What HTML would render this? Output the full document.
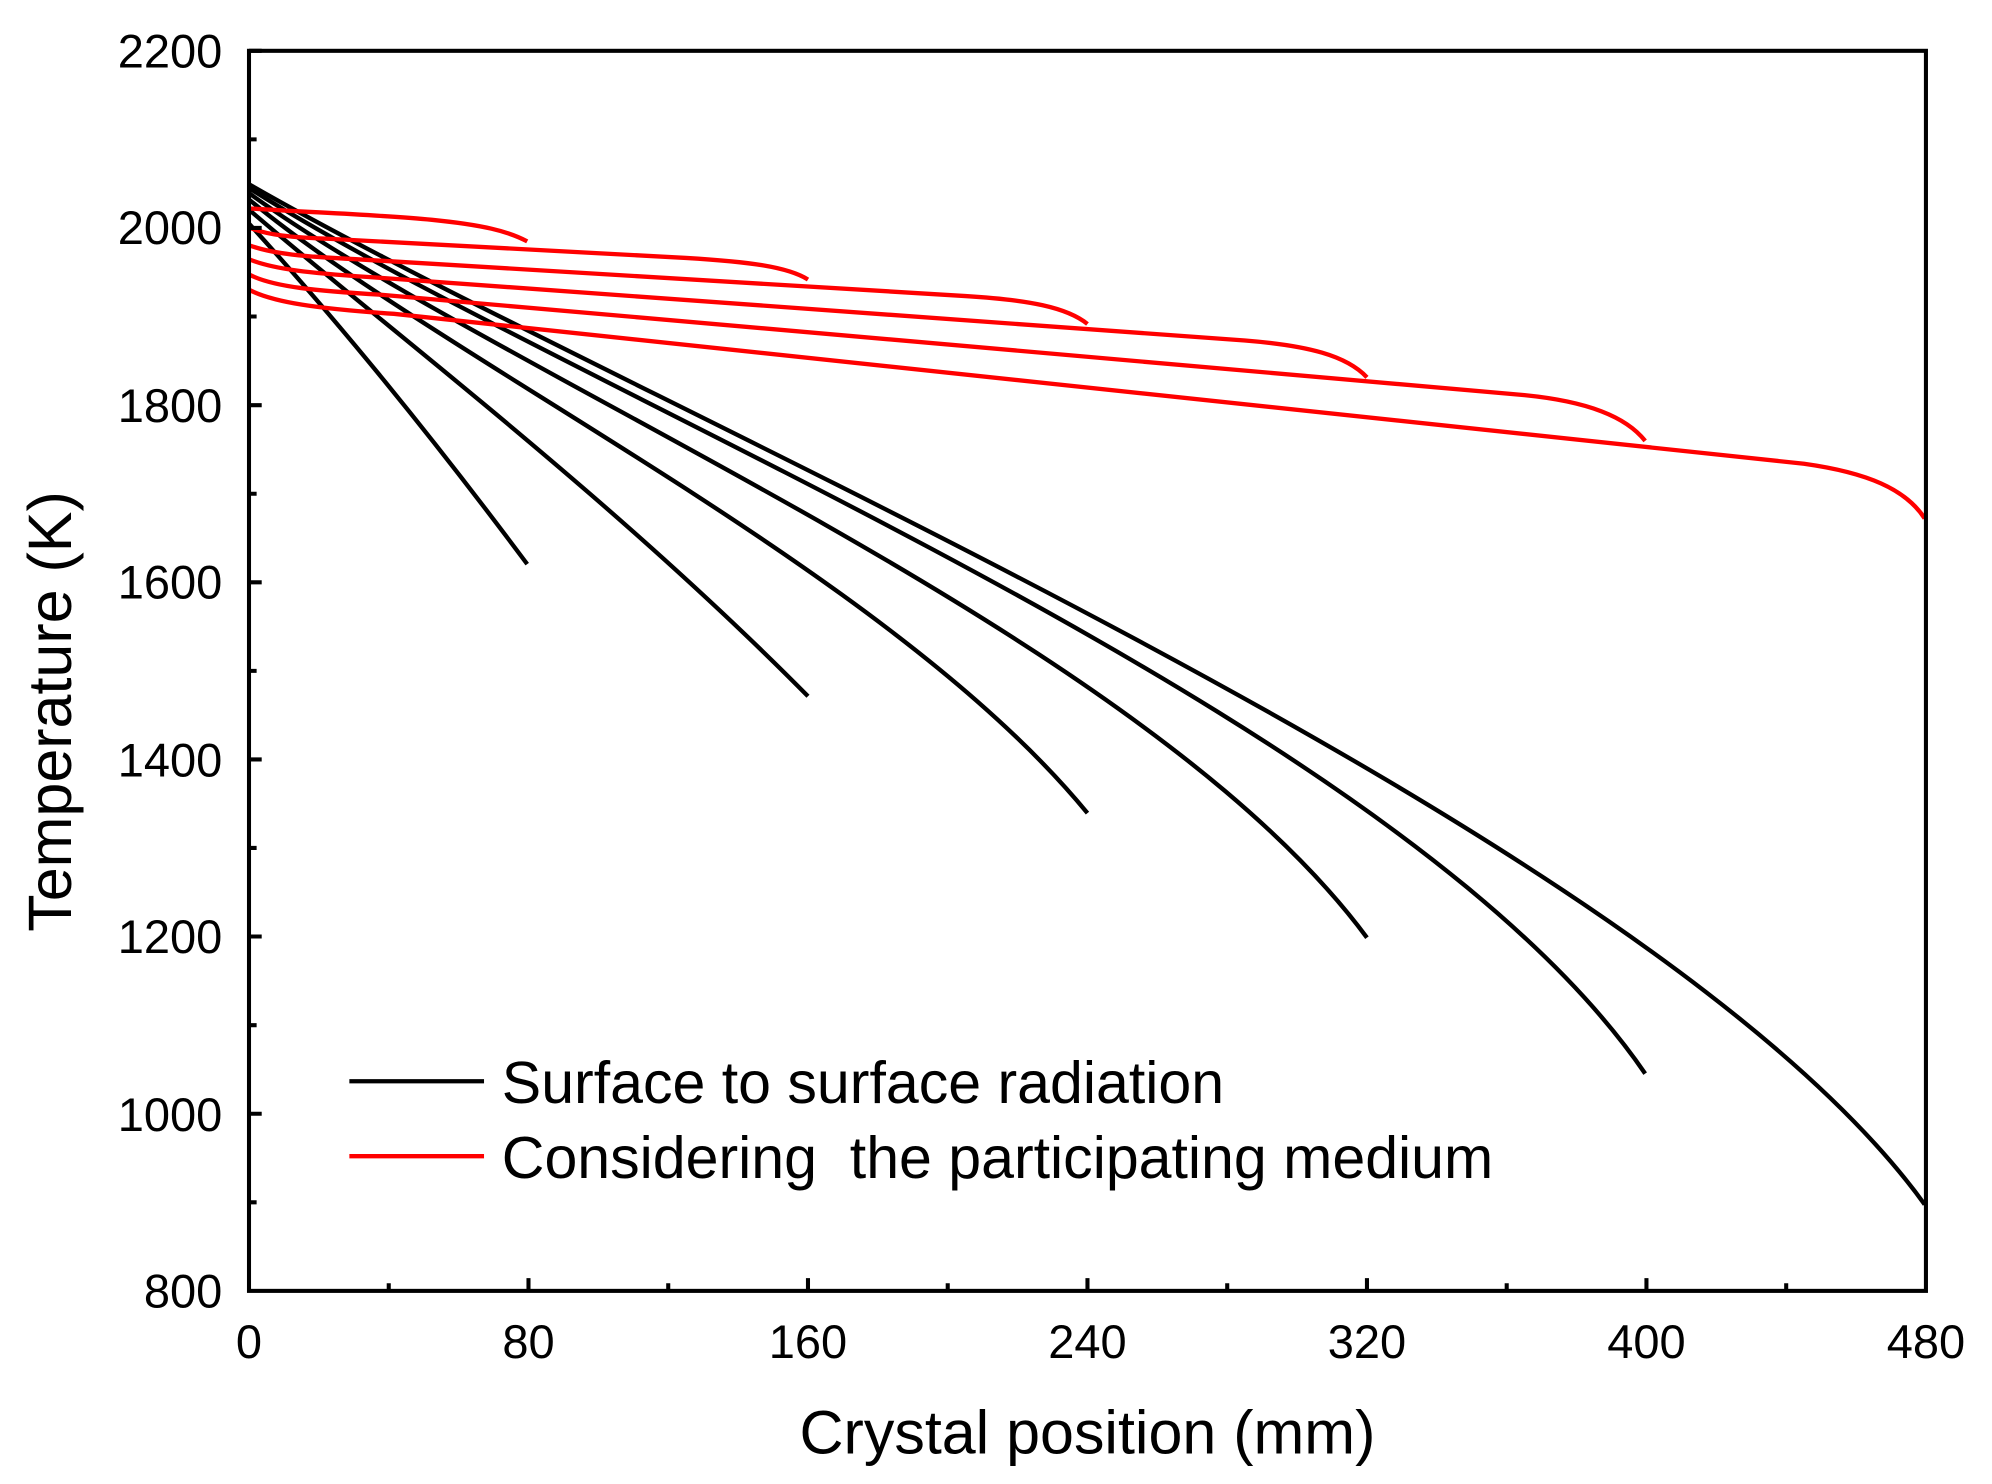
<!DOCTYPE html>
<html><head><meta charset="utf-8"><style>html,body{margin:0;padding:0;background:#fff}svg{display:block}</style></head>
<body>
<svg width="1992" height="1484" viewBox="0 0 1568 1168" preserveAspectRatio="none" xmlns="http://www.w3.org/2000/svg" font-family="Liberation Sans, Arial, sans-serif">
<rect width="1568" height="1168" fill="#fff"/>
<g fill="none" stroke="#000" stroke-width="3.4">
<path d="M196,176 Q300,290 415,444"/>
<path d="M196,165 C300,255 480,390 636,548"/>
<path d="M196,157 C350,285 700,450 856,640"/>
<path d="M196,152 C400,300 900,500 1076,738"/>
<path d="M196,148 C450,310 1100,560 1295,845"/>
<path d="M196,145 C500,320 1300,650 1515,948"/>
</g>
<g fill="none" stroke="#f00" stroke-width="3.4">
<path d="M196,164 C240,167 300,169 340,173 C380,177 400,182 415,190"/>
<path d="M196,179 C210,185 230,187 260,188 L540,203 C590,206 620,210 636,220"/>
<path d="M196,193 C215,200 240,202 280,204 L760,233 C810,236 840,242 856,255"/>
<path d="M196,204 C215,212 245,215 290,218 L980,268 C1030,272 1060,280 1076,297"/>
<path d="M196,216 C215,226 250,229 300,232 L1200,311 C1250,316 1280,328 1295,347"/>
<path d="M196,228 C215,238 250,243 310,247 L1420,365 C1470,372 1500,385 1515,408"/>
</g>
<g stroke="#000" stroke-width="3.2" fill="none">
<rect x="196" y="40" width="1320" height="976"/>
<path d="M196,40h10M196,109.7h6M196,179.4h10M196,249.1h6M196,318.9h10M196,388.6h6M196,458.3h10M196,528h6M196,597.7h10M196,667.4h6M196,737.1h10M196,806.9h6M196,876.6h10M196,946.3h6"/>
<path d="M306,1016v-6M416,1016v-10M526,1016v-6M636,1016v-10M746,1016v-6M856,1016v-10M966,1016v-6M1076,1016v-10M1186,1016v-6M1296,1016v-10M1406,1016v-6"/>
</g>
<g font-size="37" text-anchor="end" fill="#000">
<text x="175" y="53">2200</text><text x="175" y="192">2000</text><text x="175" y="332">1800</text><text x="175" y="471">1600</text><text x="175" y="611">1400</text><text x="175" y="750">1200</text><text x="175" y="890">1000</text><text x="175" y="1029">800</text>
</g>
<g font-size="37" text-anchor="middle" fill="#000">
<text x="196" y="1069">0</text><text x="416" y="1069">80</text><text x="636" y="1069">160</text><text x="856" y="1069">240</text><text x="1076" y="1069">320</text><text x="1296" y="1069">400</text><text x="1516" y="1069">480</text>
</g>
<text x="856" y="1144" font-size="48" text-anchor="middle">Crystal position (mm)</text>
<text transform="translate(56,560) rotate(-90)" font-size="48" text-anchor="middle">Temperature (K)</text>
<line x1="275" y1="851" x2="381" y2="851" stroke="#000" stroke-width="3.4"/>
<line x1="275" y1="910" x2="381" y2="910" stroke="#f00" stroke-width="3.4"/>
<text x="395" y="868" font-size="46.5">Surface to surface radiation</text>
<text x="395" y="927" font-size="46.5" xml:space="preserve">Considering  the participating medium</text>
</svg>
</body></html>
